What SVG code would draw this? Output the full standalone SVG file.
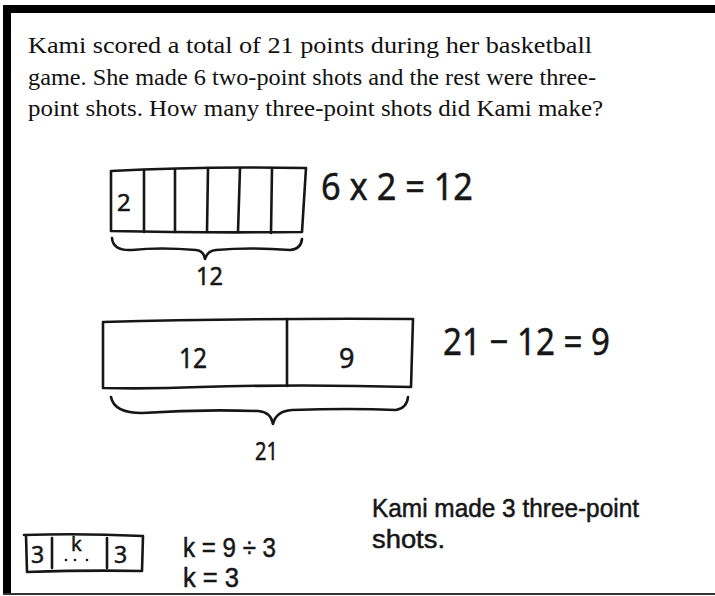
<svg xmlns="http://www.w3.org/2000/svg" width="715" height="596" viewBox="0 0 715 596">
<style>
.prob{font-family:"Liberation Serif","Times New Roman",serif;font-size:24px;fill:#111}
.hand{font-family:"Noto Sans","DejaVu Sans",sans-serif;fill:#161616;stroke:#161616;stroke-width:0.5}
.hand2{font-family:"Liberation Sans",Arial,sans-serif;fill:#161616;stroke:#161616;stroke-width:0.5}
.ink{fill:none;stroke:#161616;stroke-width:2.6;stroke-linecap:round;stroke-linejoin:round}
.dot{fill:#161616}
</style>
<rect x="0" y="0" width="715" height="596" fill="#fff"/>
<g id="frame">
<rect x="3" y="5" width="712" height="8" fill="#000"/>
<rect x="3" y="5" width="8" height="590" fill="#000"/>
<rect x="3" y="593" width="712" height="2" fill="#333"/>
</g>
<g id="problem">
<text class="prob" x="28" y="53" textLength="564" lengthAdjust="spacingAndGlyphs">Kami scored a total of 21 points during her basketball</text>
<text class="prob" x="28" y="85" textLength="568" lengthAdjust="spacingAndGlyphs">game. She made 6 two-point shots and the rest were three-</text>
<text class="prob" x="28" y="116" textLength="575" lengthAdjust="spacingAndGlyphs">point shots. How many three-point shots did Kami make?</text>
</g>
<g id="tape1">
<path class="ink" d="M111,171 Q200,166 306,168 L302,232 Q200,233 111,231 Z"/>
<path class="ink" d="M144,170 L144,232 M175,169 L175,232 M208,168 L207,232 M240,168 L238,232 M272,168 L271,233"/>
<text class="hand" x="117" y="211" font-size="24">2</text>
</g>
<g id="eq1">
<text class="hand" x="321" y="200" font-size="38" textLength="152" lengthAdjust="spacingAndGlyphs">6 x 2 = 12</text>
</g>
<g id="tape2">
<path class="ink" d="M103,322 Q250,318 413,319 L411,387 Q300,384 200,387 Q150,389 103,388 Z"/>
<path class="ink" d="M287,319 L287,386"/>
<text class="hand" x="179" y="368" font-size="27" textLength="28" lengthAdjust="spacingAndGlyphs">12</text>
<text class="hand" x="339" y="368" font-size="27">9</text>
</g>
<g id="eq2">
<text class="hand" x="443" y="355" font-size="38" textLength="167" lengthAdjust="spacingAndGlyphs">21 − 12 = 9</text>
</g>
<g id="connectors">
<path id="brace1" class="ink" d="M112,238 Q113,251 132,250 Q160,247 196,250 Q204,251 205,259 Q207,251 216,250 Q250,247 290,250 Q301,249 302,239"/>
<path id="brace2" class="ink" d="M111,397 Q114,413 142,413 Q200,409 258,411 Q271,412 273,424 Q276,411 292,410 Q350,408 396,410 Q407,408 408,397"/>
</g>
<g id="label12">
<text class="hand" x="196" y="285" font-size="25" textLength="27" lengthAdjust="spacingAndGlyphs">12</text>
</g>
<g id="label21">
<text class="hand" x="255" y="460" font-size="26" textLength="23" lengthAdjust="spacingAndGlyphs">21</text>
</g>
<g id="tape3">
<path class="ink" d="M24,535 Q80,533 143,536 L142,571 Q90,570 27,572 L26,535"/>
<path class="ink" d="M52,538 L52,568 M107,538 L107,568"/>
<text class="hand" x="31" y="563" font-size="23">3</text>
<text class="hand" x="71" y="551" font-size="20">k</text>
<circle class="dot" cx="66" cy="560" r="1.3"/>
<circle class="dot" cx="75" cy="560" r="1.3"/>
<circle class="dot" cx="87" cy="560" r="1.3"/>
<text class="hand" x="114" y="563" font-size="23">3</text>
</g>
<g id="eq3">
<text class="hand2" x="183" y="557" font-size="27" textLength="93" lengthAdjust="spacingAndGlyphs">k = 9 ÷ 3</text>
<text class="hand2" x="183" y="587" font-size="27" textLength="56" lengthAdjust="spacingAndGlyphs">k = 3</text>
</g>
<g id="answer">
<text class="hand2" x="372" y="517" font-size="25" textLength="267" lengthAdjust="spacingAndGlyphs">Kami made 3 three-point</text>
<text class="hand2" x="372" y="548" font-size="25" textLength="73" lengthAdjust="spacingAndGlyphs">shots.</text>
</g>
</svg>
